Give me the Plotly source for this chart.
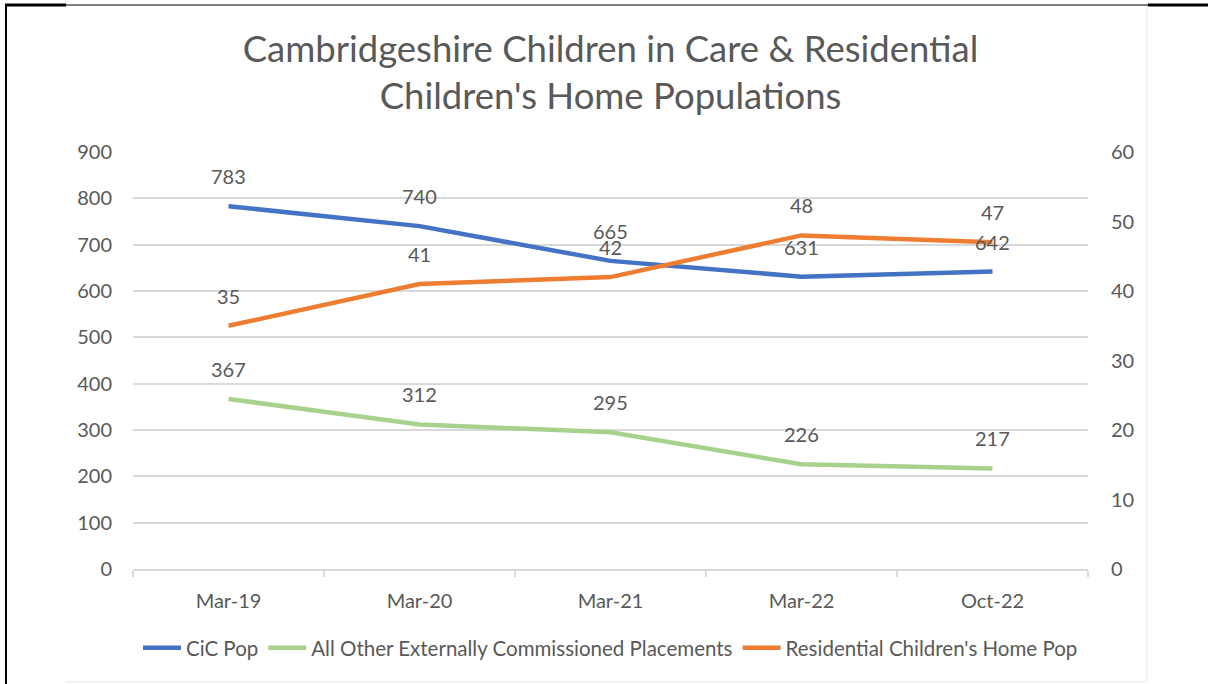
import plotly.graph_objects as go

categories = ["Mar-19", "Mar-20", "Mar-21", "Mar-22", "Oct-22"]
cic_pop = [783, 740, 665, 631, 642]
other_external = [367, 312, 295, 226, 217]
residential_home = [35, 41, 42, 48, 47]

TEXT = "#595959"
GRID = "#D9D9D9"
FONT = "Lato, Carlito, Calibri, sans-serif"

W, H = 1208, 684
L, R, T, B = 133, 120, 152, 115
PW, PH = W - L - R, H - T - B


def px(x):
    return (x - L) / PW


def py(y):
    return (H - B - y) / PH


fig = go.Figure()
fig.add_trace(go.Scatter(x=categories, y=cic_pop, name="CiC Pop", mode="lines",
                         line=dict(color="#4472C4", width=4.5)))
fig.add_trace(go.Scatter(x=categories, y=other_external,
                         name="All Other Externally Commissioned Placements", mode="lines",
                         line=dict(color="#A9D18E", width=4.5)))
fig.add_trace(go.Scatter(x=categories, y=residential_home,
                         name="Residential Children's Home Pop", mode="lines",
                         line=dict(color="#ED7D31", width=4.5), yaxis="y2"))

annotations = []
for series, yref in ((cic_pop, "y"), (other_external, "y"), (residential_home, "y2")):
    for c, v in zip(categories, series):
        annotations.append(dict(x=c, y=v, xref="x", yref=yref, text=str(v), showarrow=False,
                                yshift=30, font=dict(family=FONT, size=20, color=TEXT)))

shapes = [
    # chart area light border
    dict(type="line", xref="paper", yref="paper", x0=px(1147), x1=px(1147), y0=py(5), y1=py(682),
         line=dict(color="#E6E6E6", width=1)),
    dict(type="line", xref="paper", yref="paper", x0=px(66), x1=px(1147), y0=py(682), y1=py(682),
         line=dict(color="#E6E6E6", width=1)),
    # black page borders
    dict(type="line", xref="paper", yref="paper", x0=px(6), x1=px(6), y0=py(4), y1=py(684),
         line=dict(color="black", width=2)),
    dict(type="line", xref="paper", yref="paper", x0=px(5), x1=px(1208), y0=py(5), y1=py(5),
         line=dict(color="black", width=1.2)),
    dict(type="line", xref="paper", yref="paper", x0=px(5), x1=px(66), y0=py(5), y1=py(5),
         line=dict(color="black", width=3)),
    dict(type="line", xref="paper", yref="paper", x0=px(1148), x1=px(1208), y0=py(5), y1=py(5),
         line=dict(color="black", width=3)),
]

fig.update_layout(
    width=W, height=H,
    margin=dict(l=L, r=R, t=T, b=B),
    paper_bgcolor="white", plot_bgcolor="white",
    font=dict(family=FONT, color=TEXT, size=20),
    title=dict(text="Cambridgeshire Children in Care & Residential<br>Children's Home Populations",
               x=0.5, xref="paper", xanchor="center", y=1 - 62 / H, yanchor="middle",
               font=dict(family=FONT, size=36.5, color=TEXT)),
    xaxis=dict(type="category", range=[-0.5, 4.5], showgrid=False, showline=True,
               linecolor=GRID, linewidth=2, ticks="outside", tickson="boundaries",
               ticklen=6, tickcolor=GRID, tickwidth=1.5, ticklabelstandoff=13,
               tickfont=dict(family=FONT, size=20, color=TEXT)),
    yaxis=dict(range=[0, 900], dtick=100, showgrid=True, gridcolor=GRID, gridwidth=2,
               zeroline=False, showline=False, ticks="", ticklabelstandoff=20,
               tickfont=dict(family=FONT, size=20, color=TEXT)),
    yaxis2=dict(range=[0, 60], dtick=10, overlaying="y", side="right", showgrid=False,
                zeroline=False, showline=False, ticks="", ticklabelstandoff=22,
                tickfont=dict(family=FONT, size=20, color=TEXT)),
    legend=dict(orientation="h", x=0.5, xanchor="center", xref="paper",
                y=py(648), yanchor="middle", font=dict(family=FONT, size=20.5, color=TEXT),
                itemwidth=38, tracegroupgap=0),
    annotations=annotations,
    shapes=shapes,
    showlegend=True,
)

fig.write_html("out.html", config={"displayModeBar": False},
               post_script="document.body.style.margin='0';document.body.style.overflow='hidden';")
